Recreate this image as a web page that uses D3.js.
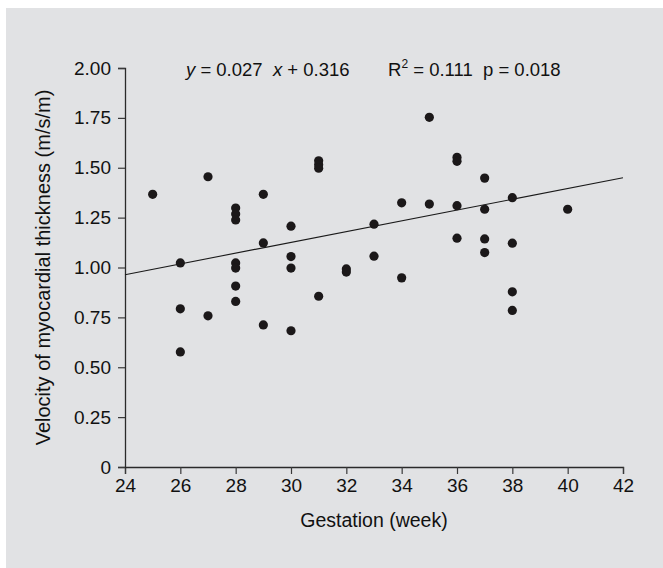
<!DOCTYPE html>
<html>
<head>
<meta charset="utf-8">
<script src="https://cdn.jsdelivr.net/npm/d3@7"></script>
<style>
  body { margin: 0; background: #fff; }
  svg { display: block; }
</style>
</head>
<body>
<div class="main"></div>
<script>
// Chart settings
const width = 663;
const height = 568;
const margin = { top: 68, right: 40, bottom: 101, left: 125 };

// Data: gestation week and velocity (m/s/m)
const weeks = [
  25,
  26, 26, 26,
  27, 27,
  28, 28, 28, 28, 28, 28, 28,
  29, 29, 29,
  30, 30, 30, 30,
  31, 31, 31, 31,
  32, 32,
  33, 33,
  34, 34,
  35, 35,
  36, 36, 36, 36,
  37, 37, 37, 37,
  38, 38, 38, 38,
  40
];
const velocity = [
  1.367,
  1.023, 0.793, 0.577,
  1.455, 0.758,
  1.298, 1.268, 1.238, 1.023, 0.997, 0.907, 0.830,
  1.367, 1.123, 0.712,
  1.207, 1.055, 0.997, 0.683,
  1.535, 1.515, 1.498, 0.856,
  0.993, 0.977,
  1.217, 1.057,
  1.324, 0.948,
  1.753, 1.318,
  1.552, 1.532, 1.310, 1.147,
  1.448, 1.292, 1.143, 1.075,
  1.350, 1.122, 0.878, 0.785,
  1.292
];
const xTicks = [24, 26, 28, 30, 32, 34, 36, 38, 40, 42];
const yTicks = [0, 0.25, 0.5, 0.75, 1.0, 1.25, 1.5, 1.75, 2.0];
const slope = 0.027;
const intercept = 0.316;

const points = weeks.map((w, i) => ({ week: w, v: velocity[i] }));

const svg = d3.select('.main')
  .append('svg')
  .attr('width', width)
  .attr('height', height)
  .style('font-family', '"Liberation Sans", Arial, sans-serif');

// grey panel
svg.append('rect')
  .attr('x', 6).attr('y', 8)
  .attr('width', width - 6).attr('height', height - 8)
  .attr('fill', '#e1e2e4');

const x = d3.scaleLinear()
  .domain([24, 42])
  .range([margin.left, width - margin.right]);

const y = d3.scaleLinear()
  .domain([0, 2])
  .range([height - margin.bottom, margin.top]);

// axes
const gx = svg.append('g')
  .attr('transform', `translate(0, ${y(0)})`)
  .call(d3.axisBottom(x).tickValues(xTicks).tickSizeOuter(0).tickSize(7).tickPadding(5));

const gy = svg.append('g')
  .attr('transform', `translate(${x(24)}, 0)`)
  .call(d3.axisLeft(y).tickValues(yTicks).tickSizeOuter(0).tickSize(7).tickPadding(7)
    .tickFormat(d => d === 0 ? '0' : d3.format('.2f')(d)));

[gx, gy].forEach(g => {
  g.select('.domain').attr('stroke', '#2a2a2a').attr('stroke-width', 1.3);
  g.selectAll('.tick line').attr('stroke', '#3a3a3a').attr('stroke-width', 1.2);
  g.selectAll('.tick text')
    .attr('fill', '#111')
    .style('font-size', '19px')
    .style('font-family', '"Liberation Sans", Arial, sans-serif');
});

// regression line
svg.append('line')
  .attr('x1', x(24)).attr('y1', y(slope * 24 + intercept))
  .attr('x2', x(42)).attr('y2', y(slope * 42 + intercept))
  .attr('stroke', '#1a1a1a')
  .attr('stroke-width', 1.1);

// points
svg.append('g')
  .selectAll('circle')
  .data(points)
  .join('circle')
  .attr('cx', d => x(d.week))
  .attr('cy', d => y(d.v))
  .attr('r', 4.6)
  .attr('fill', '#1b1819');

// equation
const eq = svg.append('text')
  .attr('x', 186).attr('y', 76)
  .attr('fill', '#111')
  .style('font-size', '18.5px')
  .attr('xml:space', 'preserve');
eq.append('tspan').attr('font-style', 'italic').text('y');
eq.append('tspan').text(' = 0.027  ');
eq.append('tspan').attr('font-style', 'italic').text('x');
eq.append('tspan').text(' + 0.316');

const r2 = svg.append('text')
  .attr('x', 388).attr('y', 76)
  .attr('fill', '#111')
  .style('font-size', '18.5px')
  .attr('xml:space', 'preserve');
r2.append('tspan').text('R');
r2.append('tspan').attr('dy', -8).style('font-size', '12px').text('2');
r2.append('tspan').attr('dy', 8).text(' = 0.111  p = 0.018');

// axis titles
svg.append('text')
  .attr('x', 374).attr('y', 527)
  .attr('text-anchor', 'middle')
  .attr('fill', '#111')
  .style('font-size', '19.5px')
  .text('Gestation (week)');

svg.append('text')
  .attr('transform', `translate(50, ${(y(0) + y(2)) / 2}) rotate(-90)`)
  .attr('text-anchor', 'middle')
  .attr('fill', '#111')
  .style('font-size', '20px')
  .text('Velocity of myocardial thickness (m/s/m)');
</script>
</body>
</html>
